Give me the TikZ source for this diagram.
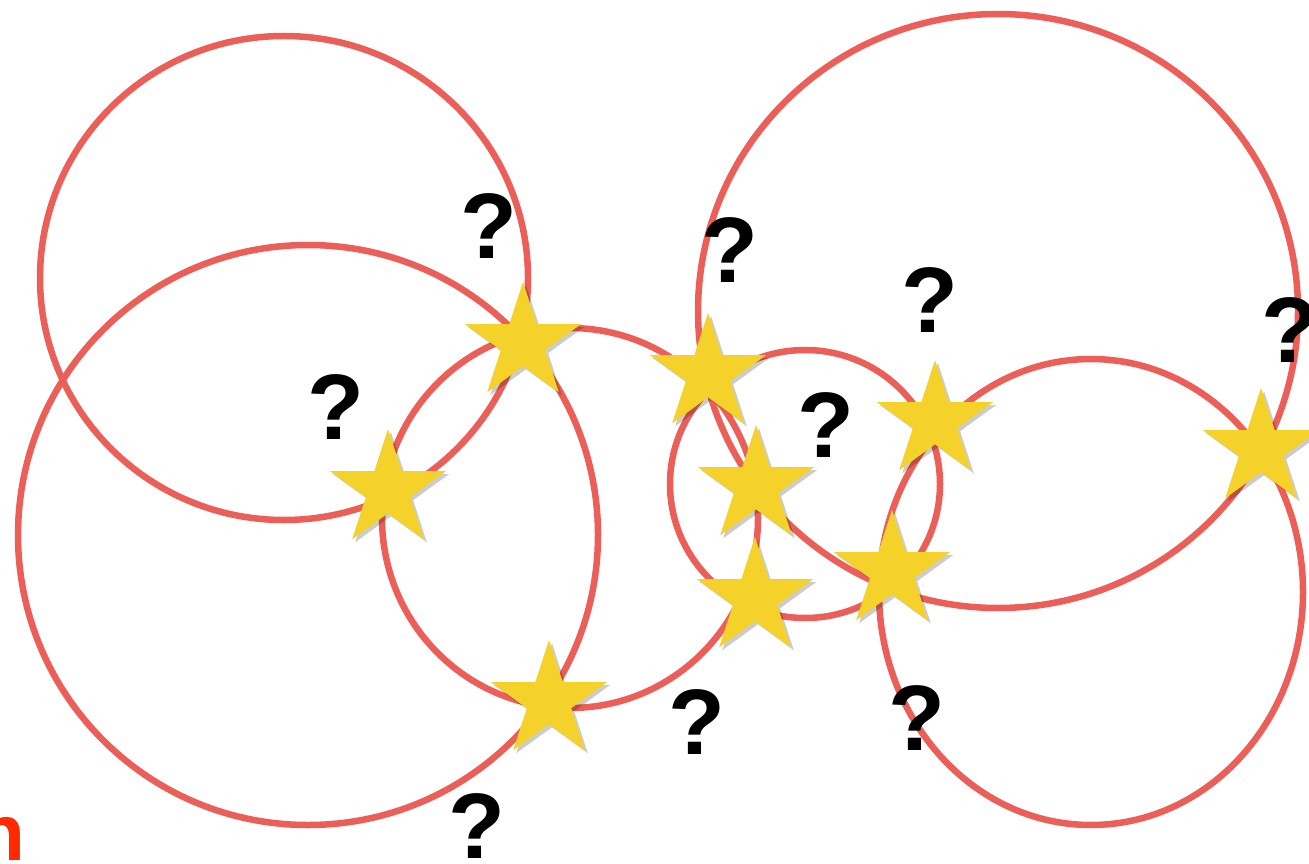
\documentclass[tikz,border=0pt]{standalone}
\usepackage{fontspec}
\setmainfont{Liberation Sans}
\usetikzlibrary{shapes.geometric,shadows}
\definecolor{ringred}{HTML}{EC5F58}
\definecolor{staryellow}{HTML}{F4D22A}
\definecolor{nred}{HTML}{FF2A00}
\begin{document}
\begin{tikzpicture}[x=1pt,y=-1pt,
  ring/.style={draw=ringred, line width=6.5pt},
  starmark/.style={star, star points=5, star point ratio=2.618, fill=staryellow,
    minimum size=122pt, inner sep=0pt, draw=none,
    drop shadow={shadow xshift=3pt, shadow yshift=-3pt, fill=black, opacity=0.2}},
  qmark/.style={font=\bfseries\fontsize{93}{93}\selectfont, inner sep=0pt, text=black}]
\useasboundingbox (0,0) rectangle (1309,864);
\fill[white] (0,0) rectangle (1309,864);
% rings
\draw[ring] (284,278) ellipse [x radius=244pt, y radius=242pt];
\draw[ring] (308,535) ellipse [x radius=290pt, y radius=290pt];
\draw[ring] (570,518) ellipse [x radius=188pt, y radius=190pt];
\draw[ring] (805,484) ellipse [x radius=135pt, y radius=134pt];
\draw[ring] (998,311) ellipse [x radius=300pt, y radius=297pt];
\draw[ring] (1091,592) ellipse [x radius=212pt, y radius=233pt];
% question marks
\node[qmark] (q1) at (489,226) {?};
\node[qmark] (q2) at (730,250) {?};
\node[qmark] (q3) at (930,300) {?};
\node[qmark] (q4) at (1290,330) {?};
\node[qmark] (q5) at (826,425) {?};
\node[qmark] (q6) at (336,407) {?};
\node[qmark] (q7) at (697,722) {?};
\node[qmark] (q8) at (917,718) {?};
\node[qmark] (q9) at (477,826) {?};
% stars
\node[starmark] (s1) at (523,343) {};
\node[starmark] (s2) at (388,490) {};
\node[starmark] (s3) at (549,701) {};
\node[starmark] (s4) at (708,374) {};
\node[starmark] (s5) at (756,486) {};
\node[starmark] (s6) at (755,598) {};
\node[starmark] (s7) at (892,571) {};
\node[starmark] (s8) at (935,421) {};
\node[starmark] (s9) at (1261,449) {};
% partial letter
\node[font=\bfseries\fontsize{80}{80}\selectfont, text=nred, inner sep=0pt, anchor=base east] (n1) at (26,860) {n};
\end{tikzpicture}
\end{document}
